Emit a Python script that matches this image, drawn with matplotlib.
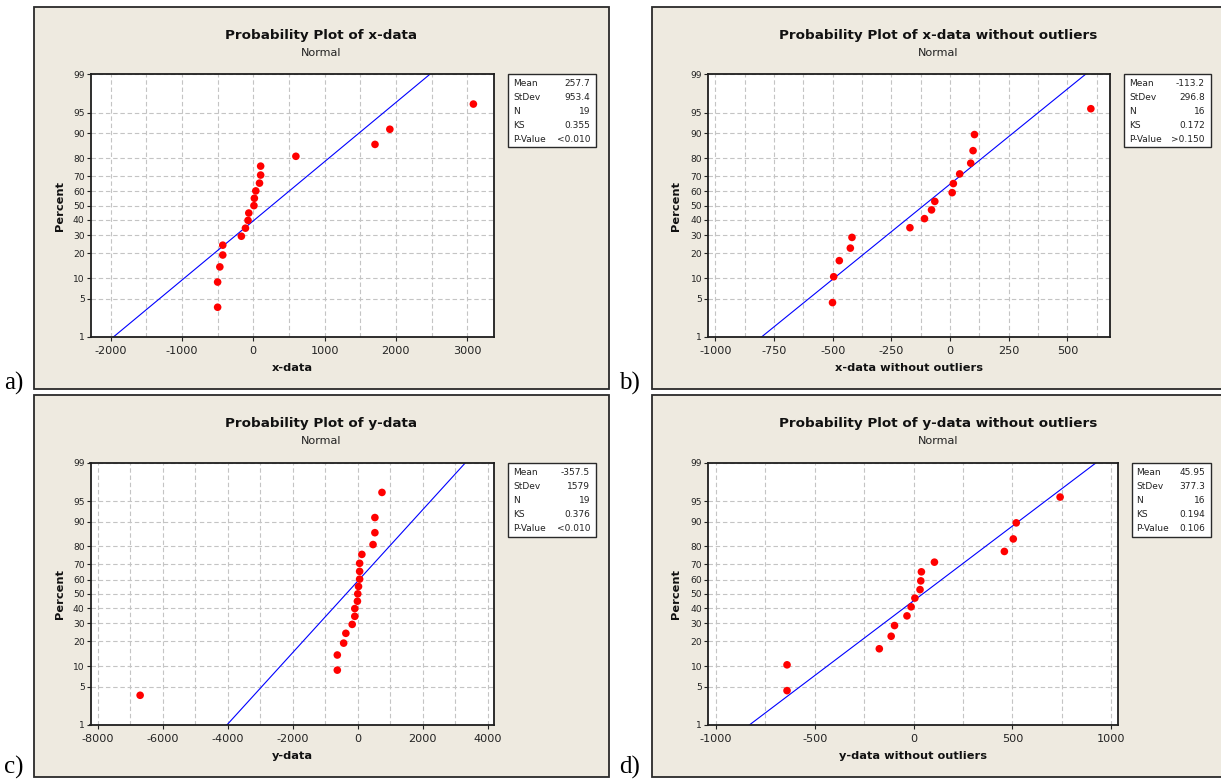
import numpy as np
import matplotlib
matplotlib.use("Agg")
import matplotlib.pyplot as plt
from matplotlib.patches import Rectangle
from statistics import NormalDist

# ---------------- data ----------------
pct_19 = [3.6, 8.8, 13.9, 19.1, 24.2, 29.4, 34.5, 39.7, 44.8, 50.0,
          55.2, 60.3, 65.5, 70.6, 75.8, 80.9, 86.1, 91.2, 96.4]
pct_16 = [4.3, 10.4, 16.5, 22.6, 28.7, 34.8, 40.9, 47.0,
          53.0, 59.1, 65.2, 71.3, 77.4, 83.5, 89.6, 95.7]

x_data = [-499, -499, -468, -427, -427, -166, -109, -73, -62, 10,
          16, 36, 88, 104, 104, 598, 1707, 1915, 3086]
x_data_wo = [-501, -496, -472, -425, -418, -171, -109, -79,
             -65, 9, 14, 41, 88, 98, 104, 600]
y_data = [-6701, -630, -630, -435, -367, -172, -92, -92, -11, 0,
          23, 57, 57, 57, 126, 470, 527, 527, 745]
y_data_wo = [-641, -641, -174, -114, -97, -34, -13, 6,
             32, 36, 39, 105, 459, 504, 519, 741]

titles = ["Probability Plot of x-data",
          "Probability Plot of x-data without outliers",
          "Probability Plot of y-data",
          "Probability Plot of y-data without outliers"]
xlabels = ["x-data", "x-data without outliers", "y-data", "y-data without outliers"]
panel_letters = ["a)", "b)", "c)", "d)"]

means = [257.7, -113.2, -357.5, 45.95]
stdevs = [953.4, 296.8, 1579, 377.3]
stat_names = ["Mean", "StDev", "N", "KS", "P-Value"]
stats_a = ["257.7", "953.4", "19", "0.355", "<0.010"]
stats_b = ["-113.2", "296.8", "16", "0.172", ">0.150"]
stats_c = ["-357.5", "1579", "19", "0.376", "<0.010"]
stats_d = ["45.95", "377.3", "16", "0.194", "0.106"]

pct_ticks = [1, 5, 10, 20, 30, 40, 50, 60, 70, 80, 90, 95, 99]
xticks_a = [-2000, -1000, 0, 1000, 2000, 3000]
xticks_b = [-1000, -750, -500, -250, 0, 250, 500]
xticks_c = [-8000, -6000, -4000, -2000, 0, 2000, 4000]
xticks_d = [-1000, -500, 0, 500, 1000]

# ---------------- layout ----------------
W, H = 1221, 779
fig = plt.figure(figsize=(W / 100, H / 100), dpi=100)
fig.patch.set_facecolor("white")

BG = "#EEEAE0"
_nd = NormalDist()


def fwd(p):
    p = np.clip(np.asarray(p, dtype=float), 1e-6, 100 - 1e-6)
    return np.vectorize(_nd.inv_cdf, otypes=[float])(p / 100.0)


def inv(z):
    z = np.clip(np.asarray(z, dtype=float), -8, 8)
    return np.vectorize(_nd.cdf, otypes=[float])(z) * 100.0


def frect(l, t, r, b):
    return [l / W, 1 - b / H, (r - l) / W, (b - t) / H]


def ftext(x, y, s, **kw):
    fig.text(x / W, 1 - y / H, s, **kw)


panels = [
    dict(box=(34, 7, 609, 389), ax=(90.5, 74.3, 494, 337), xlim=(-2281, 3375),
         xt=xticks_a, minor=500, stats=(508, 74, 596, 147), title_x=321.3,
         pct_x=59.7, letter=(4, 390), x=x_data, p=pct_19, sv=stats_a),
    dict(box=(652, 7, 1226, 389), ax=(708, 74.3, 1110, 337), xlim=(-1031.6, 681.6),
         xt=xticks_b, minor=125, stats=(1124, 74, 1211, 147), title_x=937.8,
         pct_x=676.3, letter=(619, 390), x=x_data_wo, p=pct_16, sv=stats_b),
    dict(box=(34, 395, 609, 777), ax=(90.5, 462.7, 494, 725), xlim=(-8229, 4194),
         xt=xticks_c, minor=1000, stats=(508, 462.7, 596, 536.7), title_x=321.3,
         pct_x=59.7, letter=(4, 774), x=y_data, p=pct_19, sv=stats_c),
    dict(box=(652, 395, 1226, 777), ax=(708, 462.7, 1118, 725), xlim=(-1041, 1034),
         xt=xticks_d, minor=250, stats=(1131.5, 462.7, 1211, 536.7), title_x=937.8,
         pct_x=676.3, letter=(619, 774), x=y_data_wo, p=pct_16, sv=stats_d),
]

grid_kw = dict(color="#C4C4C4", linewidth=0.8, linestyle=(0, (4, 2.5)))

for i, P in enumerate(panels):
    l, t, r, b = P["box"]
    fig.add_artist(Rectangle((l / W, 1 - b / H), (r - l) / W, (b - t) / H,
                             transform=fig.transFigure, facecolor=BG,
                             edgecolor="#2a2a2a", linewidth=1.3, zorder=0))
    # letter
    ftext(P["letter"][0], P["letter"][1], panel_letters[i], family="Liberation Serif",
          fontsize=18, ha="left", va="baseline", color="black")
    # titles
    ftext(P["title_x"], t + 28, titles[i], fontsize=9.7, fontweight="bold",
          ha="center", va="center", color="#111111")
    ftext(P["title_x"], t + 45.7, "Normal", fontsize=8.1, ha="center",
          va="center", color="#222222")

    al, at, ar, ab = P["ax"]
    ax = fig.add_axes(frect(al, at, ar, ab))
    ax.set_facecolor("white")
    ax.set_yscale("function", functions=(fwd, inv))
    ax.set_ylim(1, 99)
    ax.set_yticks(pct_ticks)
    ax.set_yticklabels([str(v) for v in pct_ticks])
    ax.yaxis.set_minor_locator(matplotlib.ticker.NullLocator())
    ax.set_xlim(*P["xlim"])
    ax.set_xticks(P["xt"])
    ax.set_xticklabels([str(v) for v in P["xt"]])
    step = P["minor"]
    lo = P["xt"][0] - step
    minors = []
    v = lo
    while v <= P["xt"][-1] + step:
        if P["xlim"][0] < v < P["xlim"][1]:
            minors.append(v)
        v += step
    ax.set_xticks(minors, minor=True)
    ax.grid(True, which="both", axis="x", **grid_kw)
    ax.grid(True, which="major", axis="y", **grid_kw)
    ax.set_axisbelow(True)
    ax.tick_params(axis="x", which="major", length=3, width=0.8, pad=3.2,
                   labelsize=8.1, colors="#222222")
    ax.tick_params(axis="x", which="minor", length=0)
    ax.tick_params(axis="y", which="major", length=3, width=0.8, pad=1.2,
                   labelsize=6.6, colors="#222222")
    for s in ax.spines.values():
        s.set_color("#1e1e1e")
        s.set_linewidth(1.3)

    # fitted line
    p_line = np.linspace(1, 99, 400)
    ax.plot(means[i] + stdevs[i] * fwd(p_line), p_line, color="#0000FF",
            linewidth=0.8, zorder=2)
    # points
    ax.scatter(P["x"], P["p"], s=30, color="#FF0000", edgecolors="none", zorder=3)

    # axis labels
    ftext((al + ar) / 2, ab + 30.7, xlabels[i], fontsize=8.2, fontweight="bold",
          ha="center", va="center", color="#111111")
    ftext(P["pct_x"], (at + ab) / 2, "Percent", fontsize=8.2, fontweight="bold",
          ha="center", va="center", rotation=90, color="#111111")

    # stats box
    sl, st, sr, sb = P["stats"]
    fig.add_artist(Rectangle((sl / W, 1 - sb / H), (sr - sl) / W, (sb - st) / H,
                             transform=fig.transFigure, facecolor="white",
                             edgecolor="#2a2a2a", linewidth=1.0, zorder=1))
    for k, (nm, val) in enumerate(zip(stat_names, P["sv"])):
        yy = st + 9.5 + 14 * k
        ftext(sl + 5, yy, nm, fontsize=6.5, ha="left", va="center", color="#222222")
        ftext(sr - 6, yy, val, fontsize=6.5, ha="right", va="center", color="#222222")

fig.savefig("out.png", dpi=100, facecolor="white")
